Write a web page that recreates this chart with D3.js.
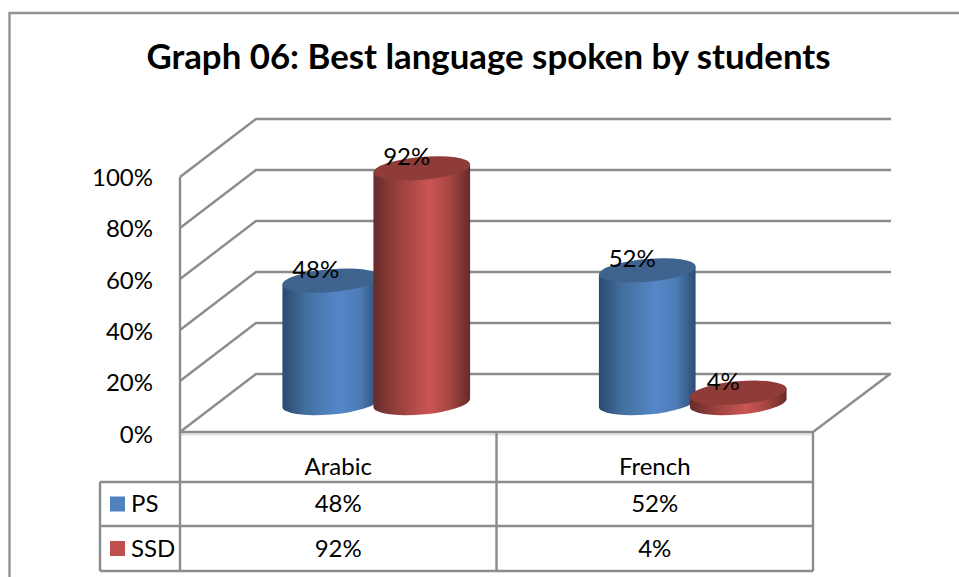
<!DOCTYPE html>
<html><head><meta charset="utf-8">
<script src="https://cdnjs.cloudflare.com/ajax/libs/d3/7.8.5/d3.min.js"></script>
<style>html,body{margin:0;padding:0;background:#fff}svg{display:block}text{font-family:Lato,"Open Sans",sans-serif;fill:#000}</style>
</head><body><svg id="c" width="959" height="577"></svg>
<script>
const titleText = "Graph 06: Best language spoken by students";
const categories = ["Arabic", "French"];
const seriesNames = ["PS", "SSD"];
const psValues = [48, 52];
const ssdValues = [92, 4];
const yTicks = [0, 20, 40, 60, 80, 100];
const seriesValues = [psValues, ssdValues];

const svg = d3.select("#c");
const line = "#8c8c8c";
const y = d3.scaleLinear().domain([0, 100]).range([432, 177]);
const x = d3.scaleBand().domain(categories).range([180, 813]);
const depth = {dx: 76, dy: -58};
const sub = d3.scaleBand().domain(seriesNames).range([-91, 91]);

const colors = {
  PS:  {top:"#3e638f", legend:"#4f81bd", stops:["#2b4a70","#43709f","#5587c8","#4d7cb6","#2d4c72"]},
  SSD: {top:"#8f3c39", legend:"#c0504d", stops:["#672c2a","#96403d","#cc5552","#a44542","#652b29"]}
};
const defs = svg.append("defs");
seriesNames.forEach(s => {
  const g = defs.append("linearGradient").attr("id","g"+s);
  [0,.25,.58,.8,1].forEach((o,i)=>g.append("stop").attr("offset",o).attr("stop-color",colors[s].stops[i]));
});

// outer frame: open on the right and at the bottom
svg.append("path").attr("d","M9.5,577V13H959").attr("fill","none").attr("stroke","#939393").attr("stroke-width",2.4);

svg.append("text").attr("x",488.5).attr("y",69).attr("text-anchor","middle")
  .attr("font-size",34.8).attr("font-weight",700).text(titleText);

// light shadow under the front floor edge
svg.append("path").attr("d",`M181,${y(0)+2.5}H812`).attr("stroke","#e0e0e0").attr("stroke-width",2);

// walls
const grid = svg.append("g").attr("fill","none").attr("stroke",line).attr("stroke-width",2.4);
yTicks.forEach(t=>{
  const p = d3.path();
  p.moveTo(x.range()[0], y(t));
  p.lineTo(x.range()[0]+depth.dx, y(t)+depth.dy);
  p.lineTo(x.range()[1]+depth.dx+2, y(t)+depth.dy);
  grid.append("path").attr("d",p.toString());
});
grid.append("path").attr("d",`M${x.range()[0]},${y(100)}V${y(0)}H${x.range()[1]}L${x.range()[1]+depth.dx+1},${y(0)+depth.dy}`);

svg.append("g").selectAll("text").data(yTicks).join("text")
  .attr("x",153).attr("y",d=>y(d)+9+(100-d)*0.015).attr("text-anchor","end").attr("font-size",24)
  .text(d=>d+"%");

// cylinders
const rx=48.5, ry=11.5, phi=-5*Math.PI/180, baseY=-29, baseX=38;
const t0=Math.atan2(-ry*Math.sin(phi),rx*Math.cos(phi));
const ex=rx*Math.cos(t0)*Math.cos(phi)-ry*Math.sin(t0)*Math.sin(phi);
const ey=rx*Math.cos(t0)*Math.sin(phi)+ry*Math.sin(t0)*Math.cos(phi);
const rot=phi*180/Math.PI;
const bars=svg.append("g");
const centre=(c,s)=>x(c)+x.bandwidth()/2+baseX+sub(s)+sub.bandwidth()/2;
seriesNames.forEach((s,si)=>{
  categories.forEach((c,ci)=>{
    const v=seriesValues[si][ci];
    const cx=centre(c,s);
    const yb=y(0)+baseY, yt=y(v)+baseY;
    bars.append("path")
      .attr("d",`M${cx-ex},${yt-ey}L${cx-ex},${yb-ey}A${rx},${ry} ${rot} 0 0 ${cx+ex},${yb+ey}L${cx+ex},${yt+ey}Z`)
      .attr("fill",`url(#g${s})`);
    bars.append("ellipse").attr("cx",cx).attr("cy",yt).attr("rx",rx).attr("ry",ry)
      .attr("transform",`rotate(${rot} ${cx} ${yt})`).attr("fill",colors[s].top);
  });
});
// data labels
seriesNames.forEach((s,si)=>{
  categories.forEach((c,ci)=>{
    const v=seriesValues[si][ci];
    svg.append("text").attr("x",centre(c,s)-15).attr("y",y(v)+baseY-3).attr("text-anchor","middle").attr("font-size",24).text(v+"%");
  });
});

// data table
const rows=[482,526,571];
const tbl=svg.append("g").attr("fill","none").attr("stroke",line).attr("stroke-width",2.4);
tbl.append("path").attr("d",`M100,${rows[0]}H813M100,${rows[1]}H813M100,${rows[2]}H813M100,${rows[0]}V${rows[2]}`);
x.domain().forEach(c=>tbl.append("path").attr("d",`M${x(c)},432V${rows[2]}`));
tbl.append("path").attr("d",`M813,432V${rows[2]}`);
svg.append("g").selectAll("text").data(categories).join("text")
  .attr("x",d=>x(d)+x.bandwidth()/2).attr("y",475).attr("text-anchor","middle").attr("font-size",24).text(d=>d);
seriesNames.forEach((s,si)=>{
  const cy=(rows[si]+rows[si+1])/2;
  svg.append("rect").attr("x",110).attr("y",cy-7.5).attr("width",15).attr("height",15).attr("fill",colors[s].legend);
  svg.append("text").attr("x",131).attr("y",cy+8).attr("font-size",24).text(s);
  categories.forEach((c,ci)=>{
    svg.append("text").attr("x",x(c)+x.bandwidth()/2).attr("y",cy+8).attr("text-anchor","middle").attr("font-size",24).text(seriesValues[si][ci]+"%");
  });
});
</script></body></html>
